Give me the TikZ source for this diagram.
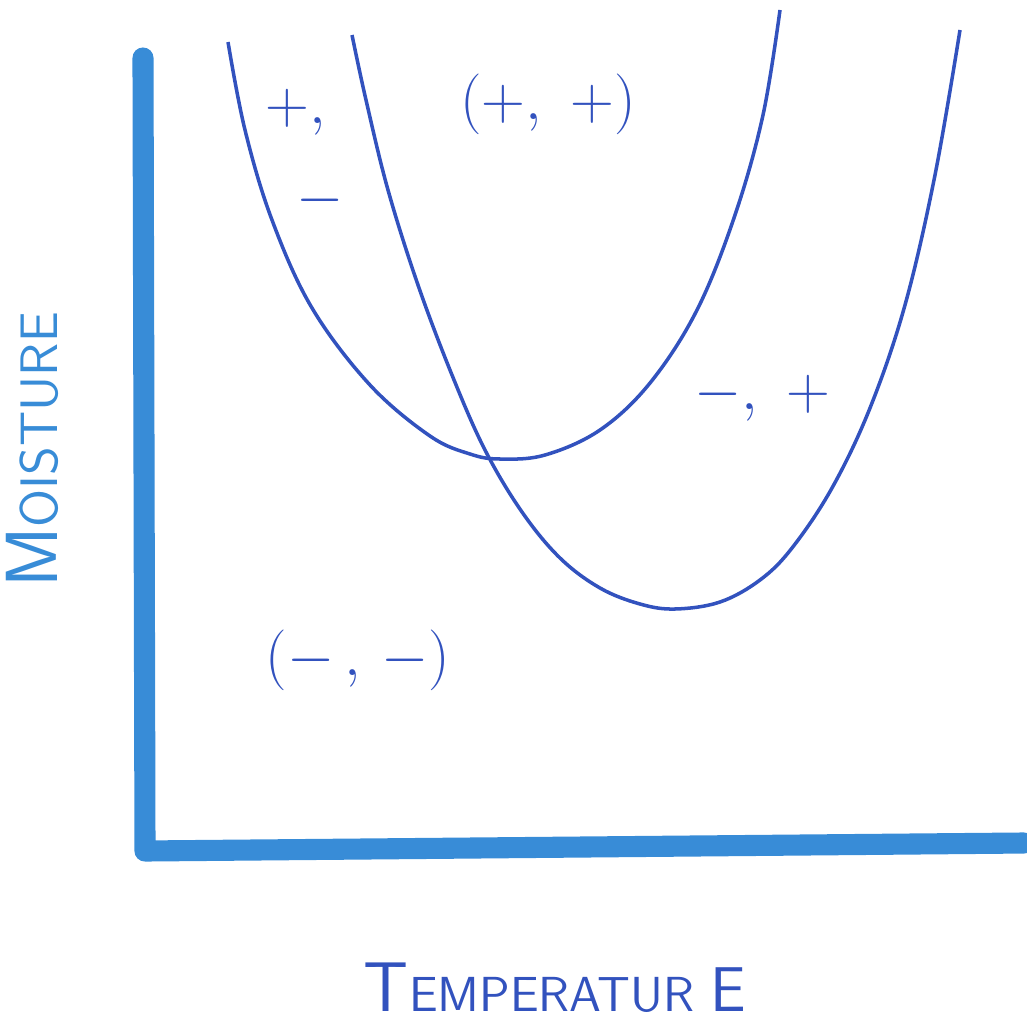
\documentclass[tikz,border=0pt]{standalone}
\usepackage{fontspec}
\usepackage{tikz}
\usetikzlibrary{positioning}

\definecolor{axisblue}{RGB}{56,140,215}
\definecolor{inkblue}{RGB}{50,82,190}

\begin{document}
\begin{tikzpicture}[x=0.01cm, y=-0.01cm]

\tikzset{axis/.style = {draw=axisblue, line width=6pt, line cap=round, line join=round}}
\tikzset{curve/.style = {draw=inkblue, line width=1pt}}
\tikzset{sign/.style = {text=inkblue, font=\fontsize{17}{17}\selectfont, inner sep=0pt}}
\tikzset{axisname/.style = {inner sep=0pt, font=\sffamily\addfontfeature{LetterSpace=30}}}

\useasboundingbox (0,0) rectangle (1026,1027);
% axes
\coordinate (top) at (143,58);
\coordinate (origin) at (145,851);
\coordinate (xend) at (1024,843);
\draw[axis] (top) -- (origin) -- (xend);
% curves
\draw[curve] plot[smooth, tension=0.6] coordinates {(228,42) (245,130) (272,220) (312,308) (370,385) (430,436) (470,454) (500,459) (545,455) (600,430) (650,383) (697,310) (735,215) (763,115) (780,10)};
\draw[curve] plot[smooth, tension=0.6] coordinates {(352,35) (366,100) (388,190) (418,285) (452,375) (485,450) (522,512) (560,558) (600,588) (640,604) (675,609) (720,602) (760,580) (792,548) (832,488) (870,408) (905,305) (935,175) (960,30)};
% signs
\node[sign] (pp) at (548,104) {$(+,\ +)$};
\node[sign] (pl) at (296,112) {$+,$};
\node[sign] (mi) at (320,200) {$-$};
\node[sign] (mp) at (762,398) {$-,\ +$};
\node[sign] (mm) at (358,660) {$(-\,,\,-)$};
% axis names
\node[axisname, text=axisblue, rotate=90] (moist) at (32,450) {\fontsize{21}{21}\selectfont M\fontsize{15}{15}\selectfont OISTURE};
\node[axisname, text=inkblue] (temp) at (555,988) {\fontsize{20}{20}\selectfont T\fontsize{14}{14}\selectfont EMPERATUR \fontsize{18}{18}\selectfont E};
\end{tikzpicture}
\end{document}
